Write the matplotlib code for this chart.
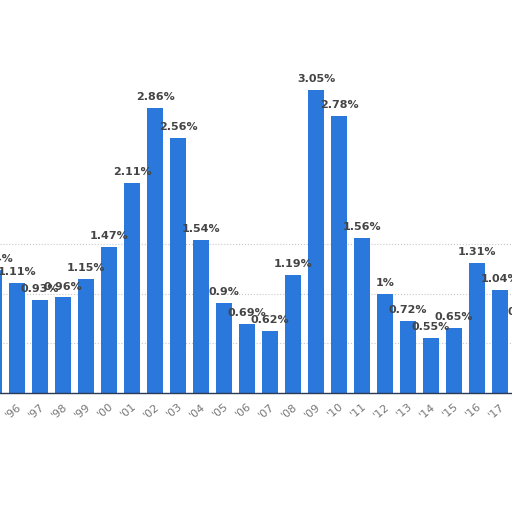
import numpy as np
import matplotlib.pyplot as plt

# Share per year
years = ["'95", "'96", "'97", "'98", "'99", "'00", "'01", "'02", "'03", "'04", "'05", "'06",
         "'07", "'08", "'09", "'10", "'11", "'12", "'13", "'14", "'15", "'16", "'17", "'18"]
values = [1.24, 1.11, 0.93, 0.96, 1.15, 1.47, 2.11, 2.86, 2.56, 1.54, 0.9, 0.69,
          0.62, 1.19, 3.05, 2.78, 1.56, 1.0, 0.72, 0.55, 0.65, 1.31, 1.04, 0.7]
labels = ['1.24%', '1.11%', '0.93%', '0.96%', '1.15%', '1.47%', '2.11%', '2.86%', '2.56%',
          '1.54%', '0.9%', '0.69%', '0.62%', '1.19%', '3.05%', '2.78%', '1.56%', '1%',
          '0.72%', '0.55%', '0.65%', '1.31%', '1.04%', '0.7%']

x = np.arange(len(years))

fig = plt.figure(figsize=(5.12, 5.12), dpi=100)
ax = fig.add_axes([0, (512 - 393) / 512, 1, 393 / 512])

ax.bar(x, values, width=0.7, color='#2a78dc', zorder=3)
for xi, v, lab in zip(x, values, labels):
    ax.text(xi, v + 0.06, lab, ha='center', va='bottom', fontsize=8,
            fontweight='bold', color='#444444', zorder=4)

ax.set_xticks(x)
ax.set_xticklabels(years, rotation=40, ha='right', rotation_mode='anchor',
                   fontsize=8, color='#777777')
ax.tick_params(axis='x', length=0, pad=6)

ax.set_yticks([0.5, 1.0, 1.5])
ax.yaxis.grid(True, linestyle=':', color='#c8c8c8', linewidth=0.8, zorder=0)
ax.tick_params(axis='y', length=0, labelleft=False)

# limits last so the ticks do not widen the view
ax.set_xlim(0.26, 22.52)
ax.set_ylim(0, 393 / 99.5)

for side in ['top', 'left', 'right']:
    ax.spines[side].set_visible(False)
ax.spines['bottom'].set_color('#2b3a55')
ax.spines['bottom'].set_linewidth(1.0)
ax.spines['bottom'].set_zorder(5)

fig.savefig('out.png', dpi=100)
